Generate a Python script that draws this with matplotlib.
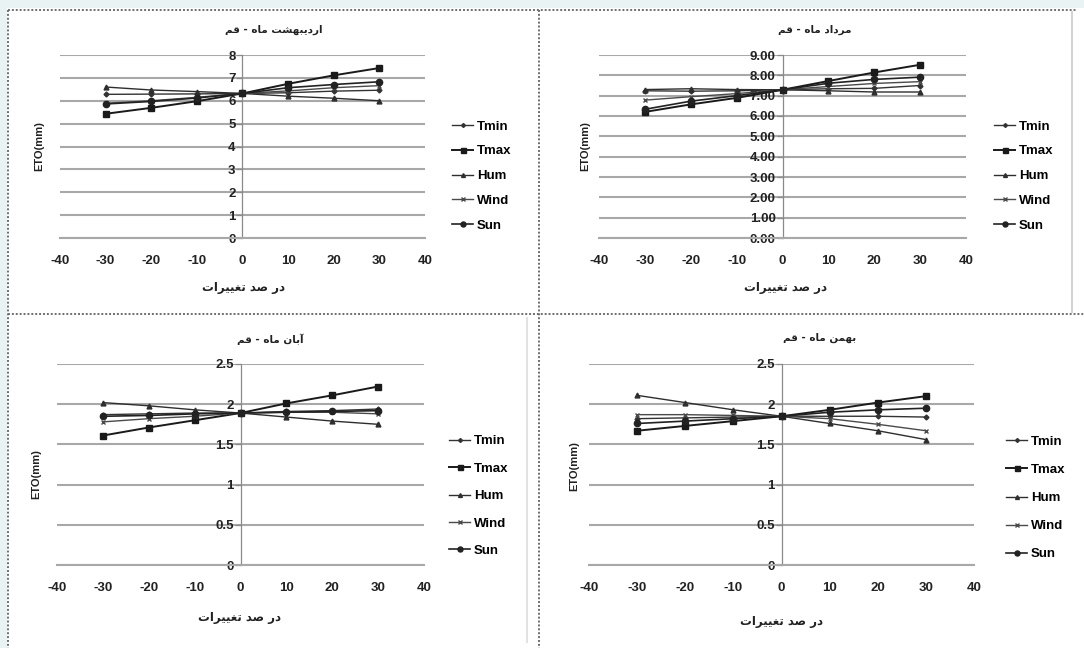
import matplotlib
matplotlib.use("Agg")
import matplotlib.pyplot as plt
from matplotlib.ticker import FormatStrFormatter
from matplotlib.lines import Line2D
from matplotlib.patches import Rectangle

plt.rcParams["font.family"] = ["Liberation Sans", "DejaVu Sans"]
plt.rcParams["axes.unicode_minus"] = False

# percent change of each input variable
changes = [-30, -20, -10, 0, 10, 20, 30]
series_names = ["Tmin", "Tmax", "Hum", "Wind", "Sun"]

# ETo (mm) - Ordibehesht
ordibehesht_tmin = [6.28, 6.29, 6.30, 6.32, 6.35, 6.42, 6.46]
ordibehesht_tmax = [5.43, 5.69, 5.98, 6.32, 6.74, 7.11, 7.43]
ordibehesht_hum = [6.60, 6.47, 6.40, 6.32, 6.20, 6.11, 6.00]
ordibehesht_wind = [5.89, 6.00, 6.15, 6.32, 6.43, 6.57, 6.66]
ordibehesht_sun = [5.86, 5.97, 6.12, 6.32, 6.57, 6.71, 6.83]

# ETo (mm) - Mordad
mordad_tmin = [7.24, 7.22, 7.24, 7.29, 7.34, 7.36, 7.50]
mordad_tmax = [6.20, 6.57, 6.89, 7.29, 7.72, 8.14, 8.52]
mordad_hum = [7.30, 7.34, 7.30, 7.29, 7.24, 7.18, 7.18]
mordad_wind = [6.78, 6.95, 7.10, 7.29, 7.45, 7.60, 7.69]
mordad_sun = [6.33, 6.73, 7.00, 7.29, 7.61, 7.80, 7.91]

# ETo (mm) - Aban
aban_tmin = [1.87, 1.88, 1.89, 1.89, 1.91, 1.92, 1.94]
aban_tmax = [1.61, 1.71, 1.80, 1.89, 2.01, 2.11, 2.22]
aban_hum = [2.02, 1.98, 1.93, 1.89, 1.84, 1.79, 1.75]
aban_wind = [1.78, 1.82, 1.85, 1.89, 1.90, 1.90, 1.88]
aban_sun = [1.85, 1.86, 1.88, 1.89, 1.90, 1.91, 1.92]

# ETo (mm) - Bahman
bahman_tmin = [1.82, 1.83, 1.84, 1.85, 1.85, 1.85, 1.84]
bahman_tmax = [1.67, 1.73, 1.79, 1.85, 1.93, 2.02, 2.10]
bahman_hum = [2.11, 2.02, 1.93, 1.85, 1.76, 1.67, 1.56]
bahman_wind = [1.87, 1.87, 1.86, 1.85, 1.82, 1.75, 1.67]
bahman_sun = [1.76, 1.79, 1.82, 1.85, 1.90, 1.93, 1.95]

titles = ["اردیبهشت ماه - قم", "مرداد ماه - قم", "آبان ماه - قم", "بهمن ماه - قم"]
xlabel = "در صد تغییرات"
ylabel = "ETO(mm)"

# arabic letters -> (isolated, final, initial, medial) presentation forms
FORMS = {
    "ا": ("\uFE8D", "\uFE8E", None, None),
    "آ": ("\uFE81", "\uFE82", None, None),
    "د": ("\uFEA9", "\uFEAA", None, None),
    "ر": ("\uFEAD", "\uFEAE", None, None),
    "ب": ("\uFE8F", "\uFE90", "\uFE91", "\uFE92"),
    "ت": ("\uFE95", "\uFE96", "\uFE97", "\uFE98"),
    "ش": ("\uFEB5", "\uFEB6", "\uFEB7", "\uFEB8"),
    "ص": ("\uFEB9", "\uFEBA", "\uFEBB", "\uFEBC"),
    "غ": ("\uFECD", "\uFECE", "\uFECF", "\uFED0"),
    "ق": ("\uFED5", "\uFED6", "\uFED7", "\uFED8"),
    "م": ("\uFEE1", "\uFEE2", "\uFEE3", "\uFEE4"),
    "ن": ("\uFEE5", "\uFEE6", "\uFEE7", "\uFEE8"),
    "ه": ("\uFEE9", "\uFEEA", "\uFEEB", "\uFEEC"),
    "ی": ("\uFEEF", "\uFEF0", "\uFEF3", "\uFEF4"),
}


def shape(text):
    # join letters and put them in visual (right to left) order
    out = []
    for i, ch in enumerate(text):
        if ch not in FORMS:
            out.append(ch)
            continue
        prev = text[i - 1] if i > 0 else ""
        nxt = text[i + 1] if i + 1 < len(text) else ""
        iso, fin, ini, med = FORMS[ch]
        join_prev = prev in FORMS and FORMS[prev][2] is not None
        join_next = nxt in FORMS and ini is not None
        if join_prev and join_next:
            out.append(med)
        elif join_prev:
            out.append(fin)
        elif join_next:
            out.append(ini)
        else:
            out.append(iso)
    return "".join(reversed(out))


W, H = 1084, 648
fig = plt.figure(figsize=(W / 100, H / 100), dpi=100)
fig.patch.set_facecolor("white")


def px(x0, y0, x1, y1):
    return [x0 / W, 1 - y1 / H, (x1 - x0) / W, (y1 - y0) / H]


# page background strips and panel borders
fig.add_artist(Rectangle((0, 1 - 8 / H), 1, 8 / H, transform=fig.transFigure,
                         facecolor="#eaf3f3", edgecolor="none", zorder=0))
fig.add_artist(Rectangle((0, 0), 7 / W, 1, transform=fig.transFigure,
                         facecolor="#eaf3f3", edgecolor="none", zorder=0))
dot = dict(color="#6e6e6e", lw=1.4, linestyle=(0, (1, 1)), transform=fig.transFigure)
fig.add_artist(Line2D([8 / W, 1076 / W], [1 - 10 / H, 1 - 10 / H], **dot))
fig.add_artist(Line2D([8 / W, 8 / W], [1 - 10 / H, 0], **dot))
fig.add_artist(Line2D([539 / W, 539 / W], [1 - 10 / H, 0], **dot))
fig.add_artist(Line2D([8 / W, 1084 / W], [1 - 314 / H, 1 - 314 / H], **dot))
fig.add_artist(Line2D([1072 / W, 1072 / W], [1 - 12 / H, 1 - 312 / H],
                      color="#d4d4d4", lw=1.5, transform=fig.transFigure))
fig.add_artist(Line2D([527 / W, 527 / W], [1 - 318 / H, 1 - 642 / H],
                      color="#e2e2e2", lw=1.5, transform=fig.transFigure))

panels = [
    dict(rect=px(60, 55, 425, 238), ylim=8, ystep=1, fmt="%g",
         data=[ordibehesht_tmin, ordibehesht_tmax, ordibehesht_hum, ordibehesht_wind, ordibehesht_sun],
         title=(274, 30), xl=(243, 287), yl=(-0.042, 0.5), leg=(452, 176), lsp=0.95),
    dict(rect=px(599, 55, 966, 238), ylim=9, ystep=1, fmt="%.2f",
         data=[mordad_tmin, mordad_tmax, mordad_hum, mordad_wind, mordad_sun],
         title=(815, 30), xl=(785, 287), yl=(-0.025, 0.5), leg=(994, 176), lsp=0.95),
    dict(rect=px(57, 364, 424, 565), ylim=2.5, ystep=0.5, fmt="%g",
         data=[aban_tmin, aban_tmax, aban_hum, aban_wind, aban_sun],
         title=(270, 339), xl=(240, 618), yl=(-0.042, 0.45), leg=(449, 496), lsp=1.15),
    dict(rect=px(589, 364, 974, 565), ylim=2.5, ystep=0.5, fmt="%g",
         data=[bahman_tmin, bahman_tmax, bahman_hum, bahman_wind, bahman_sun],
         title=(820, 338), xl=(782, 621), yl=(-0.025, 0.49), leg=(1006, 498), lsp=1.2),
]

markers = ["D", "s", "^", "x", "o"]
msizes = [2.5, 4.5, 3.5, 3, 4.5]
widths = [1.0, 1.4, 1.0, 1.0, 1.2]
colors = ["#333333", "#1a1a1a", "#2e2e2e", "#4a4a4a", "#222222"]

arabic = ["DejaVu Sans"]

for i, p in enumerate(panels):
    ax = fig.add_axes(p["rect"])
    ax.set_facecolor("white")
    for k, name in enumerate(series_names):
        ax.plot(changes, p["data"][k], marker=markers[k], ms=msizes[k], lw=widths[k],
                color=colors[k], mew=1.0, label=name, zorder=3)
    ax.set_xlim(-40, 40)
    ax.set_ylim(0, p["ylim"])
    ax.set_xticks(range(-40, 41, 10))
    yt = [j * p["ystep"] for j in range(int(round(p["ylim"] / p["ystep"])) + 1)]
    ax.set_yticks(yt)
    ax.yaxis.set_major_formatter(FormatStrFormatter(p["fmt"]))
    ax.grid(axis="y", color="#a8a8a8", lw=1.5)
    ax.set_axisbelow(True)
    for s in ["top", "right"]:
        ax.spines[s].set_visible(False)
    ax.spines["left"].set_position(("data", 0))
    ax.spines["left"].set_color("#8a8a8a")
    ax.spines["left"].set_linewidth(0.9)
    ax.spines["bottom"].set_color("#a8a8a8")
    ax.spines["bottom"].set_linewidth(1.5)
    ax.tick_params(axis="y", length=4, width=0.9, color="#8a8a8a", pad=1,
                   labelsize=9.5, labelcolor="#222222")
    ax.tick_params(axis="x", length=0, pad=12, labelsize=9.5, labelcolor="#222222")
    for lab in ax.get_xticklabels() + ax.get_yticklabels():
        lab.set_fontweight("bold")
    ax.set_ylabel(ylabel, fontsize=8, fontweight="bold", color="#222222")
    ax.yaxis.set_label_coords(*p["yl"])

    fig.text(p["title"][0] / W, 1 - p["title"][1] / H, shape(titles[i]),
             ha="center", va="center", fontsize=7.5, fontweight="bold",
             family=arabic, color="#222222")
    fig.text(p["xl"][0] / W, 1 - p["xl"][1] / H, shape(xlabel),
             ha="center", va="center", fontsize=8.5, fontweight="bold",
             family=arabic, color="#222222")

    ax.legend(loc="center left", bbox_to_anchor=(p["leg"][0] / W, 1 - p["leg"][1] / H),
              bbox_transform=fig.transFigure, frameon=False,
              prop=dict(size=9.5, weight="bold"),
              handlelength=1.6, handletextpad=0.3, labelspacing=p["lsp"],
              borderpad=0, borderaxespad=0, markerscale=0.8)

fig.savefig("out.png", dpi=100, facecolor=fig.get_facecolor())
